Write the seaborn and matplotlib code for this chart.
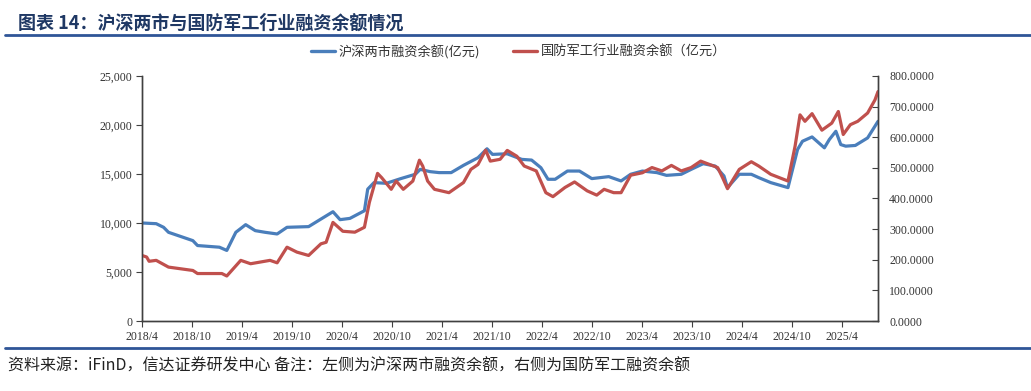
import pandas as pd
import matplotlib.pyplot as plt
import matplotlib.dates as mdates
import matplotlib.ticker as mticker
from matplotlib.lines import Line2D
import seaborn as sns

# 沪深两市融资余额 (left axis, 亿元)
sz_dates = [
    "2018-04-01", "2018-05-23", "2018-06-19", "2018-07-07", "2018-10-04", "2018-10-21",
    "2019-01-09", "2019-02-05", "2019-03-10", "2019-04-15", "2019-05-20", "2019-06-25",
    "2019-08-08", "2019-09-13", "2019-12-01", "2020-01-15", "2020-02-28", "2020-03-25",
    "2020-04-30", "2020-06-22", "2020-07-04", "2020-07-27", "2020-09-10", "2020-11-02",
    "2020-12-25", "2021-01-12", "2021-02-17", "2021-03-22", "2021-05-05", "2021-06-19",
    "2021-08-11", "2021-09-13", "2021-10-03", "2021-11-26", "2022-01-18", "2022-02-23",
    "2022-03-29", "2022-04-24", "2022-05-20", "2022-07-04", "2022-08-17", "2022-10-01",
    "2022-12-02", "2023-01-16", "2023-02-20", "2023-04-04", "2023-05-27", "2023-07-01",
    "2023-08-24", "2023-09-29", "2023-11-12", "2023-12-26", "2024-01-27", "2024-02-09",
    "2024-03-23", "2024-05-06", "2024-06-02", "2024-07-16", "2024-09-17", "2024-10-22",
    "2024-11-09", "2024-12-14", "2025-01-28", "2025-02-15", "2025-03-11", "2025-03-29",
    "2025-04-16", "2025-05-21", "2025-07-05", "2025-08-12",
]
sz_values = [
    10000, 9930, 9560, 9050, 8200, 7700,
    7530, 7200, 9050, 9830, 9220, 9050,
    8880, 9560, 9630, 10400, 11150, 10340,
    10470, 11250, 13450, 14120, 14050, 14530,
    14970, 15470, 15240, 15140, 15140, 15880,
    16660, 17570, 17000, 17060, 16490, 16420,
    15640, 14460, 14460, 15300, 15300, 14530,
    14730, 14290, 14970, 15300, 15140, 14860,
    14970, 15470, 16050, 15810, 14800, 13610,
    14970, 14970, 14630, 14120, 13610, 17500,
    18340, 18780, 17670, 18510, 19360, 18000,
    17840, 17910, 18680, 20370,
]

# 国防军工行业融资余额 (right axis, 亿元)
jg_dates = [
    "2018-04-01", "2018-04-18", "2018-04-27", "2018-05-23", "2018-07-07", "2018-10-04",
    "2018-10-21", "2019-01-18", "2019-02-05", "2019-03-28", "2019-05-03", "2019-07-13",
    "2019-08-08", "2019-09-13", "2019-10-19", "2019-12-01", "2020-01-15", "2020-02-03",
    "2020-02-28", "2020-04-04", "2020-05-18", "2020-06-22", "2020-07-10", "2020-07-27",
    "2020-08-09", "2020-08-24", "2020-09-28", "2020-10-16", "2020-11-11", "2020-12-16",
    "2021-01-09", "2021-01-21", "2021-02-08", "2021-03-05", "2021-04-27", "2021-06-19",
    "2021-07-16", "2021-08-11", "2021-09-08", "2021-09-25", "2021-10-31", "2021-11-26",
    "2021-12-31", "2022-01-27", "2022-03-12", "2022-04-16", "2022-05-12", "2022-06-25",
    "2022-07-30", "2022-09-14", "2022-10-19", "2022-11-15", "2022-12-20", "2023-01-16",
    "2023-02-20", "2023-04-04", "2023-05-09", "2023-06-14", "2023-07-19", "2023-08-24",
    "2023-09-29", "2023-11-03", "2024-01-04", "2024-01-22", "2024-02-09", "2024-03-23",
    "2024-05-06", "2024-06-02", "2024-07-16", "2024-09-17", "2024-10-13", "2024-10-31",
    "2024-11-18", "2024-12-14", "2025-01-19", "2025-02-24", "2025-03-20", "2025-04-07",
    "2025-05-03", "2025-05-30", "2025-07-05", "2025-08-01", "2025-08-12",
]
jg_values = [
    214, 209, 195, 198, 176, 165,
    155, 155, 147, 198, 187, 198,
    190, 241, 225, 214, 252, 257,
    322, 293, 290, 306, 387, 441,
    482, 468, 430, 457, 430, 457,
    525, 506, 457, 430, 419, 452,
    495, 511, 558, 522, 528, 557,
    538, 506, 490, 419, 406, 436,
    454, 425, 411, 430, 419, 419,
    476, 484, 501, 490, 508, 490,
    501, 522, 501, 468, 432, 495,
    520, 506, 479, 457, 571, 673,
    652, 677, 623, 646, 684, 609,
    641, 652, 679, 722, 749,
]

sz_label = "沪深两市融资余额(亿元)"
jg_label = "国防军工行业融资余额（亿元）"

sz_df = pd.DataFrame({"date": pd.to_datetime(sz_dates), "value": sz_values})
jg_df = pd.DataFrame({"date": pd.to_datetime(jg_dates), "value": jg_values})

sns.set_theme(style="white")
plt.rcParams["font.family"] = ["Noto Sans CJK SC", "DejaVu Sans"]

blue = "#4A7EBB"
red = "#C0504D"
tick_font = "Liberation Serif"

fig = plt.figure(figsize=(10.31, 3.91), dpi=100)
ax = fig.add_axes([0.1377, 0.179, 0.7139, 0.6267])
ax2 = ax.twinx()

sns.lineplot(data=sz_df, x="date", y="value", ax=ax, color=blue, linewidth=2.3, legend=False)
sns.lineplot(data=jg_df, x="date", y="value", ax=ax2, color=red, linewidth=2.3, legend=False)
ax2.set_zorder(ax.get_zorder() + 1)

ax.set_ylim(0, 25000)
ax2.set_ylim(0, 800)
ax.set_yticks(range(0, 25001, 5000))
ax2.set_yticks(range(0, 801, 100))
ax.yaxis.set_major_formatter(mticker.FuncFormatter(lambda v, p: f"{int(v):,}"))
ax2.yaxis.set_major_formatter(mticker.FuncFormatter(lambda v, p: f"{v:.4f}"))

ax.set_xlim(pd.Timestamp("2018-04-01"), pd.Timestamp("2025-08-12"))
ax.xaxis.set_major_locator(mdates.MonthLocator(bymonth=[4, 10]))
ax.xaxis.set_major_formatter(mticker.FuncFormatter(
    lambda v, p: f"{mdates.num2date(v).year}/{mdates.num2date(v).month}"))

for a in (ax, ax2):
    a.set_xlabel("")
    a.set_ylabel("")
    a.grid(False)
    a.spines["top"].set_visible(False)
    for s in ("left", "right", "bottom"):
        a.spines[s].set_color("#404040")
        a.spines[s].set_linewidth(1.0)
    for lab in a.get_xticklabels() + a.get_yticklabels():
        lab.set_fontfamily(tick_font)
        lab.set_fontsize(8.5)
        lab.set_color("#333333")

ax.tick_params(axis="y", direction="out", length=4, width=0.8, color="#404040", pad=3, left=True)
ax.tick_params(axis="x", direction="out", length=4, width=0.8, color="#404040", pad=3, bottom=True)
ax2.tick_params(axis="y", direction="in", length=4, width=0.8, color="#404040", pad=8, right=True)

# legend
handles = [Line2D([], [], color=blue, linewidth=2.4), Line2D([], [], color=red, linewidth=2.4)]
fig.legend(handles, [sz_label, jg_label], loc="center", bbox_to_anchor=(0.503, 1 - 52 / 391),
           ncol=2, frameon=False, fontsize=9.5, handlelength=1.8, handletextpad=0.3,
           columnspacing=2.5, labelcolor="#333333")

# title and footer
fig.text(18 / 1031, 1 - 23 / 391, "图表 14：沪深两市与国防军工行业融资余额情况",
         fontsize=13, fontweight="bold", color="#1F3864", va="center", ha="left")
fig.add_artist(Line2D([5 / 1031, 1.0], [1 - 35 / 391] * 2, color="#2F5597", linewidth=2.0))
fig.add_artist(Line2D([5 / 1031, 1.0], [1 - 348 / 391] * 2, color="#2F5597", linewidth=2.0))
fig.text(8 / 1031, 1 - 366 / 391,
         "资料来源：iFinD，信达证券研发中心 备注：左侧为沪深两市融资余额，右侧为国防军工融资余额",
         fontsize=11.5, style="italic", color="#222222", va="center", ha="left")

fig.savefig("out.png", dpi=100)
plt.close(fig)
